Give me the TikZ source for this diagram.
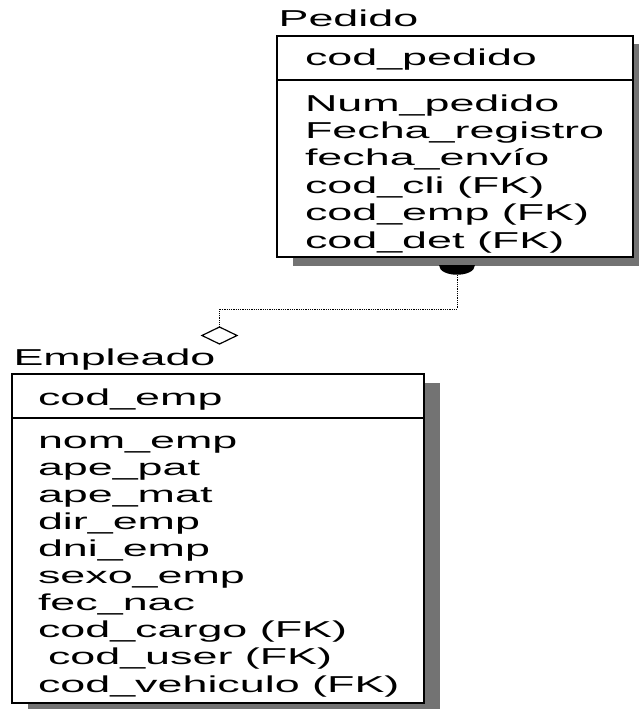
\documentclass[tikz,border=0pt]{standalone}
\usepackage{fontspec}
\usetikzlibrary{shapes.geometric}
\newfontfamily\erfont[FakeStretch=1.95]{Liberation Sans}
\tikzset{
  every node/.style={inner sep=0pt, outer sep=0pt},
  erbox/.style={draw=black, line width=2.6pt, fill=white},
  ershadow/.style={fill=black!55},
  divider/.style={draw=black, line width=1.5pt},
  ertext/.style={anchor=base west, font=\erfont\fontsize{23}{27}\selectfont},
  conn/.style={draw=black, line width=0.8pt, dash pattern=on 1pt off 0.8pt},
  onemark/.style={fill=black},
  zeromark/.style={draw=black, line width=1.2pt, fill=white, diamond, aspect=2,
     minimum width=35pt, minimum height=17pt}
}
\begin{document}
\begin{tikzpicture}[x=1pt, y=-1pt]
\useasboundingbox (0,0) rectangle (638,709);

% ---------- Pedido ----------
\fill[ershadow] (293,44.5) rectangle (649,265.5);
\draw[erbox] (277,36) rectangle (633,257);
\draw[divider] (277,80) -- (633,80);
\node[ertext] (pedtitle) at (278.6,27) {Pedido};
\node[ertext] (pedpk) at (305,66) {cod\_pedido};
\foreach \t [count=\i] in {Num\_pedido, Fecha\_registro, fecha\_envío, cod\_cli (FK), cod\_emp (FK), cod\_det (FK)}
  \node[ertext] (ped\i) at (305,{111+27.4*(\i-1)}) {\t};

% ---------- Empleado ----------
\fill[ershadow] (28,382.5) rectangle (440,711);
\draw[erbox] (12,374) rectangle (424,703);
\draw[divider] (12,418) -- (424,418);
\node[ertext] (emptitle) at (13.5,365) {Empleado};
\node[ertext] (emppk) at (38,405) {cod\_emp};
\foreach \t [count=\i] in {nom\_emp, ape\_pat, ape\_mat, dir\_emp, dni\_emp, sexo\_emp, fec\_nac, cod\_cargo (FK)}
  \node[ertext] (emp\i) at (38,{448+27.1*(\i-1)}) {\t};
\node[ertext] (emp9) at (48,664.8) {cod\_user (FK)};
\node[ertext] (emp10) at (38,692) {cod\_vehiculo (FK)};

% ---------- relationship ----------
\fill[onemark] (439,265) .. controls (439,278.3) and (475,278.3) .. (475,265) -- cycle;
\coordinate (relstart) at (457,275);
\coordinate (relbend) at (457,309);
\node[zeromark] (dia) at (219.5,335.5) {};
\draw[conn] (relstart) -- (relbend) -| (dia.north);
\end{tikzpicture}
\end{document}
